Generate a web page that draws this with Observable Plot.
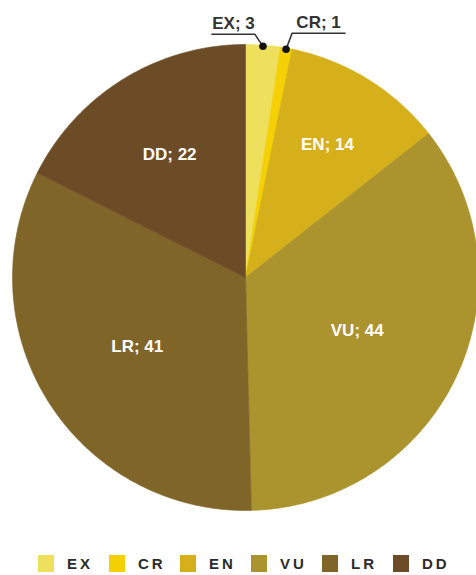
<!DOCTYPE html>
<html>
<head>
<meta charset="utf-8">
<script src="https://cdn.jsdelivr.net/npm/d3@7"></script>
<script src="https://cdn.jsdelivr.net/npm/@observablehq/plot@0.6"></script>
<style>
  html, body { margin: 0; padding: 0; background: #fff; }
  body { width: 476px; height: 575px; overflow: hidden; font-family: "Liberation Sans", Arial, sans-serif; }
  #legend { position: relative; height: 27px; }
  .item { position: absolute; top: 7px; display: flex; align-items: center; height: 17px; }
  .sw { width: 16px; height: 17px; }
  .lab { margin-left: 13px; font-size: 15px; font-weight: bold; letter-spacing: 3px; color: #2b2b2b; }
</style>
</head>
<body>
<div id="chart"></div>
<div id="legend"></div>
<script>
// ---- data ----
const categories = ["EX", "CR", "EN", "VU", "LR", "DD"];
const values = [3, 1, 14, 44, 41, 22];
const colors = ["#eee05c", "#f4d004", "#d5b01b", "#ab932d", "#806529", "#6c4c27"];
const outsideCategories = ["EX", "CR"];

// ---- layout ----
const W = 476, H = 548;
const cx = 245, cy = 277, R = 233;
const labelR = {EN: 0.67, VU: 0.53, LR: 0.55, DD: 0.62};
// leader geometry in px: [elbow dx, elbow dy, horizontal run]
const leader = {EX: [-8, -12, -43], CR: [6, -16, 53]};

const arcs = d3.pie().sort(null).startAngle(0).endAngle(2 * Math.PI)(values);

const slicePts = [];
arcs.forEach((a, i) => {
  const key = categories[i];
  slicePts.push({key, x: 0, y: 0});
  const n = Math.max(2, Math.ceil((a.endAngle - a.startAngle) / (Math.PI / 360)));
  for (let k = 0; k <= n; k++) {
    const t = a.startAngle + (a.endAngle - a.startAngle) * k / n;
    slicePts.push({key, x: Math.sin(t), y: -Math.cos(t)});
  }
  slicePts.push({key, x: 0, y: 0});
});

const inside = [], dots = [], leaderPts = [], outsideText = [];
arcs.forEach((a, i) => {
  const key = categories[i];
  const mid = (a.startAngle + a.endAngle) / 2;
  if (outsideCategories.includes(key)) {
    const dx = Math.sin(mid) * 0.995, dy = -Math.cos(mid) * 0.995;
    dots.push({x: dx, y: dy});
    const [ex, ey, run] = leader[key];
    const x1 = dx + ex / R, y1 = dy + ey / R, x2 = x1 + run / R;
    leaderPts.push({key, x: dx, y: dy}, {key, x: x1, y: y1}, {key, x: x2, y: y1});
    outsideText.push({x: (x1 + x2) / 2, y: y1 - 11 / R, text: `${key}; ${values[i]}`});
  } else {
    const r = labelR[key];
    inside.push({x: Math.sin(mid) * r, y: -Math.cos(mid) * r, text: `${key}; ${values[i]}`});
  }
});

const chart = Plot.plot({
  width: W,
  height: H,
  margin: 0,
  style: {fontFamily: "'Liberation Sans', Arial, sans-serif", background: "#fff"},
  x: {domain: [-1, 1], range: [cx - R, cx + R], axis: null},
  y: {domain: [-1, 1], range: [cy - R, cy + R], axis: null},
  color: {domain: categories, range: colors},
  marks: [
    Plot.line(slicePts, {x: "x", y: "y", z: "key", fill: "key", stroke: "key", strokeWidth: 0.6, curve: "linear"}),
    Plot.text(inside, {x: "x", y: "y", text: "text", fill: "white", fontSize: 17, fontWeight: "bold"}),
    Plot.line(leaderPts, {x: "x", y: "y", z: "key", stroke: "#333", strokeWidth: 1.6}),
    Plot.dot(dots, {x: "x", y: "y", r: 3.8, fill: "#111", stroke: "none"}),
    Plot.text(outsideText, {x: "x", y: "y", text: "text", fill: "#333", fontSize: 17, fontWeight: "bold"})
  ]
});
document.getElementById("chart").appendChild(chart);

// ---- legend ----
const legend = document.getElementById("legend");
categories.forEach((c, i) => {
  const item = document.createElement("div");
  item.className = "item";
  item.style.left = (38 + i * 71) + "px";
  const sw = document.createElement("div");
  sw.className = "sw";
  sw.style.background = colors[i];
  const lab = document.createElement("span");
  lab.className = "lab";
  lab.textContent = c;
  item.appendChild(sw);
  item.appendChild(lab);
  legend.appendChild(item);
});
</script>
</body>
</html>
